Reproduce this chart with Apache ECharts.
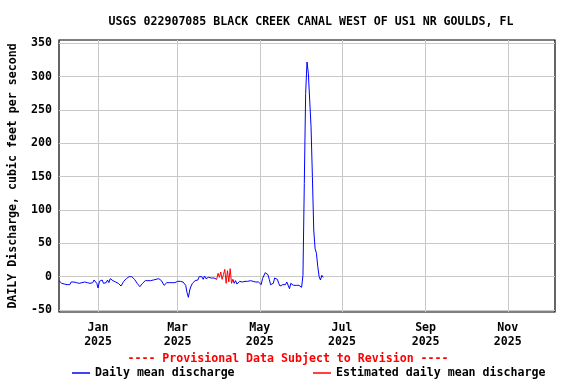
<!DOCTYPE html>
<html>
<head>
<meta charset="utf-8">
<script src="https://cdn.jsdelivr.net/npm/echarts@6/dist/echarts.min.js"></script>
<style>
html,body{margin:0;padding:0;background:#fff;}
#chart{width:576px;height:384px;}
</style>
</head>
<body>
<div id="chart"></div>
<script>
// ---- data ----
const titleText = 'USGS 022907085 BLACK CREEK CANAL WEST OF US1 NR GOULDS, FL';
const yAxisName = 'DAILY Discharge, cubic feet per second';
const provisionalText = '---- Provisional Data Subject to Revision ----';
const seriesNames = ['Daily mean discharge', 'Estimated daily mean discharge'];
const startDate = '2024-12-03';          // first daily value
const axisStart = '2024-12-03';
const axisEnd = '2025-12-06';
const xTickDates = ['2025-01-01', '2025-03-01', '2025-05-01', '2025-07-01', '2025-09-01', '2025-11-01'];
const monthNames = ['Jan','Feb','Mar','Apr','May','Jun','Jul','Aug','Sep','Oct','Nov','Dec'];
const yTicks = [-50, 0, 50, 100, 150, 200, 250, 300, 350];
const yMin = -53, yMax = 355;
// daily mean discharge, cfs (one value per day from startDate)
const discharge = [
  -6,-8,-10,-11,-11,-11,-12,-11,-12,-8,
  -6,-8,-5,-9,-7,-10,-8,-9,-12,-8,
  -10,-9,-8,-10,-7,-9,-5,-3,-10,-17,
  -7,-9,-5,-10,-7,-9,-5,-9,-3,-4,
  -6,-3,-8,-5,-10,-12,-14,-15,-7,-4,
  -3,-2,0,1,0,-2,-4,-6,-10,-13,
  -15,-14,-10,-8,-6,-6,-6,-6,-6,-6,
  -5,-3,-4,-2,-3,-4,-6,-9,-13,-10,
  -9,-12,-9,-8,-9,-7,-9,-6,-7,-8,
  -7,-6,-8,-9,-13,-24,-31,-20,-14,-10,
  -7,-6,-3,-5,0,2,0,-4,1,-3,
  -4,-1,-4,-2,-4,-2,-3,-4,5,-1,
  7,-4,3,11,-10,9,-8,12,-10,-4,
  -10,-6,-11,-8,-7,-6,-8,-9,-7,-5,
  -7,-8,-6,-6,-7,-7,-8,-7,-8,-8,
  -12,-3,0,6,7,3,-4,-12,-12,-10,
  -2,0,-4,-10,-14,-13,-12,-12,-12,-8,
  -10,-18,-10,-12,-13,-12,-13,-12,-13,-13,
  -16,2,140,275,322,305,265,225,150,70,
  42,35,15,0,-5,2,-1
];
// index range of estimated values (inclusive)
const estimatedFirst = 117;
const estimatedLast = 129;

// ---- build ----
function parseDate(s){ const p = s.split('-').map(Number); return new Date(p[0], p[1]-1, p[2]).getTime(); }
const s0 = startDate.split('-').map(Number);
const dates = discharge.map((v,i) => new Date(s0[0], s0[1]-1, s0[2] + i).getTime());
const dailyData = discharge.map((v,i) => [dates[i], (i > estimatedFirst && i < estimatedLast) ? null : v]);
const estData = discharge.map((v,i) => [dates[i], (i >= estimatedFirst && i <= estimatedLast) ? v : null]);
const xTicks = xTickDates.map(parseDate);

const FONT = 'DejaVu Sans Mono';
const textBase = {fontFamily: FONT, fontWeight: 'bold', fontSize: 11.6, color: '#000'};

const chart = echarts.init(document.getElementById('chart'), null, {renderer: 'canvas'});
chart.setOption({
  animation: false,
  backgroundColor: '#fff',
  title: {
    text: titleText, left: 306, top: 11, textAlign: 'center',
    textStyle: Object.assign({}, textBase)
  },
  grid: {left: 59, right: 21, top: 40, bottom: 72, show: true, borderColor: '#000', borderWidth: 1.2, backgroundColor: 'transparent', containLabel: false, outerBoundsMode: 'none'},
  xAxis: {
    type: 'value', min: parseDate(axisStart), max: parseDate(axisEnd), scale: true,
    axisLine: {show: false},
    axisTick: {show: false, customValues: xTicks},
    splitLine: {show: true, lineStyle: {color: '#c8c8c8', width: 1}},
    axisLabel: Object.assign({}, textBase, {
      customValues: xTicks, margin: 9, lineHeight: 14, hideOverlap: false,
      formatter: function(v){ const d = new Date(v); return monthNames[d.getMonth()] + '\n' + d.getFullYear(); }
    })
  },
  yAxis: {
    type: 'value', min: yMin, max: yMax,
    name: yAxisName, nameLocation: 'middle', nameGap: 40, nameRotate: 90,
    nameTextStyle: Object.assign({}, textBase),
    axisLine: {show: false},
    axisTick: {show: false, customValues: yTicks},
    splitLine: {show: true, lineStyle: {color: '#c8c8c8', width: 1}},
    axisLabel: Object.assign({}, textBase, {customValues: yTicks, margin: 7})
  },
  legend: [
    {data: [seriesNames[0]], left: 72, top: 367, padding: 0, icon: 'rect', itemWidth: 18, itemHeight: 1.5, itemGap: 0,
     textStyle: Object.assign({}, textBase)},
    {data: [seriesNames[1]], left: 313, top: 367, padding: 0, icon: 'rect', itemWidth: 18, itemHeight: 1.5, itemGap: 0,
     textStyle: Object.assign({}, textBase)}
  ],
  graphic: [{
    type: 'text', left: 'center', top: 353,
    style: {text: provisionalText, fill: '#ff0000', font: 'bold 11.6px "DejaVu Sans Mono"'}
  }],
  series: [
    {name: seriesNames[0], type: 'line', data: dailyData, symbol: 'none', connectNulls: false,
     lineStyle: {color: '#0000ff', width: 1}, itemStyle: {color: '#0000ff'}},
    {name: seriesNames[1], type: 'line', data: estData, symbol: 'none', connectNulls: false,
     lineStyle: {color: '#ff0000', width: 1}, itemStyle: {color: '#ff0000'}}
  ]
});
</script>
</body>
</html>
